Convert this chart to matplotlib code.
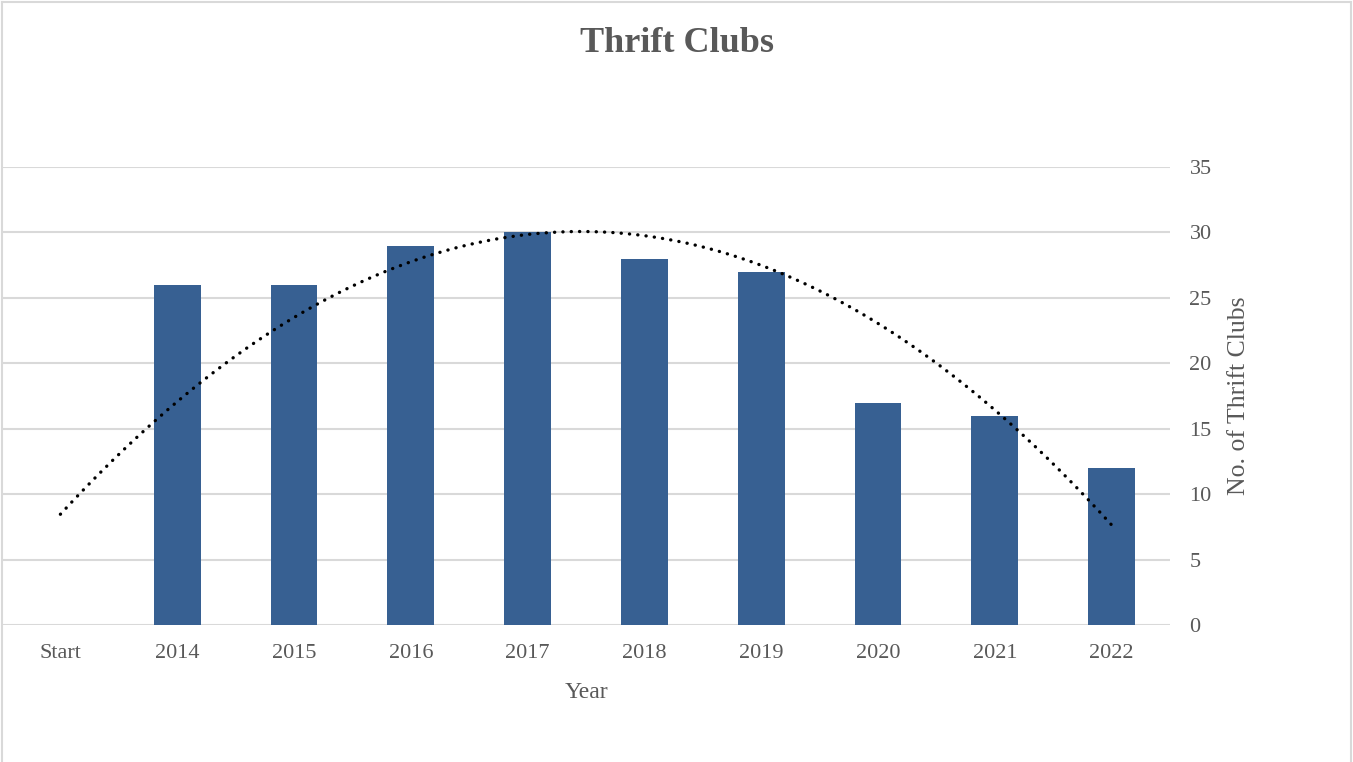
import numpy as np
import matplotlib
matplotlib.use("Agg")
import matplotlib.pyplot as plt
from matplotlib.lines import Line2D

categories = ["Start", "2014", "2015", "2016", "2017", "2018", "2019", "2020", "2021", "2022"]
clubs = [0, 26, 26, 29, 30, 28, 27, 17, 16, 12]
yticks = [0, 5, 10, 15, 20, 25, 30, 35]

plt.rcParams['font.family'] = ['Liberation Serif', 'DejaVu Serif']
W, H = 1353, 762
fig = plt.figure(figsize=(W / 100, H / 100), dpi=100)
ax = fig.add_axes([2 / W, 1 - 625 / H, (1170 - 2) / W, (625 - 167) / H])

x = np.arange(len(categories))
ax.bar(x, clubs, width=0.4, color="#376092", zorder=3)

# polynomial (order 2) trendline, as in the source chart
coef = np.polyfit(x + 1, clubs, 2)
xs = np.linspace(0, len(categories) - 1, 400)
ax.plot(xs, np.polyval(coef, xs + 1), color="black", lw=2.4,
        linestyle=(0, (0.05, 2.45)), dash_capstyle="round", zorder=4)

ax.set_xlim(-0.5, len(categories) - 0.5)
ax.set_ylim(0, 35)
ax.set_yticks(yticks)
ax.set_xticks(x)
ax.set_xticklabels(categories)
ax.yaxis.tick_right()
ax.yaxis.set_label_position("right")
ax.tick_params(axis="both", length=0, labelsize=16, labelcolor="#595959")
ax.tick_params(axis="y", pad=14)
ax.tick_params(axis="x", pad=14)
for lab in ax.get_yticklabels():
    lab.set_horizontalalignment("left")
ax.grid(axis="y", color="#d9d9d9", lw=1.5, zorder=0)
for s in ax.spines.values():
    s.set_visible(False)

ax.set_xlabel("Year", fontsize=17, color="#595959", labelpad=13)
ax.set_ylabel("No. of Thrift Clubs", fontsize=18.5, color="#595959", labelpad=12)

fig.text(0.5, 1 - 44 / H, "Thrift Clubs", ha="center", va="center",
         fontsize=26, fontweight="bold", color="#595959")

# chart border
for xy in [([2 / W, 2 / W], [0, 1 - 1.5 / H]),
           ([2 / W, 1351 / W], [1 - 1.5 / H, 1 - 1.5 / H]),
           ([1351 / W, 1351 / W], [0, 1 - 1.5 / H])]:
    fig.add_artist(Line2D(xy[0], xy[1], color="#d9d9d9", lw=1.5))

fig.savefig("out.png", dpi=100)
